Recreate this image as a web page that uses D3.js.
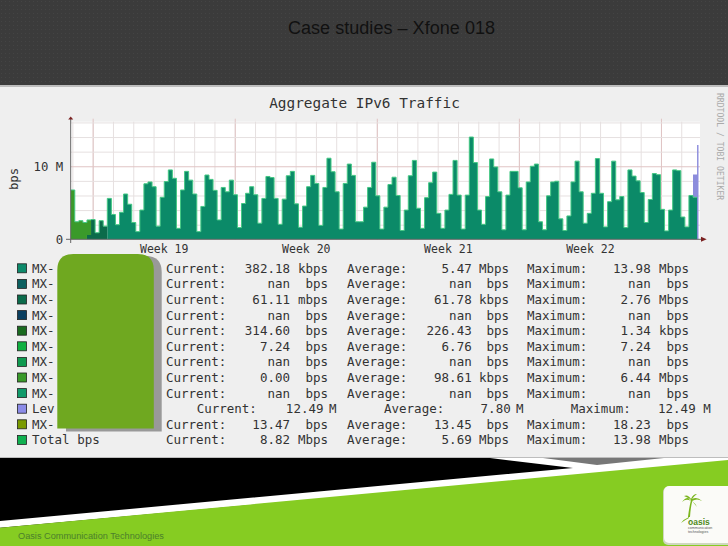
<!DOCTYPE html>
<html>
<head>
<meta charset="utf-8">
<script src="https://cdn.jsdelivr.net/npm/d3@7/dist/d3.min.js"></script>
<style>
  html, body { margin: 0; padding: 0; background: #000; }
  svg { display: block; }
  .mono { font-family: "DejaVu Sans Mono", monospace; fill: #333; }
  .domain { display: none; }
</style>
</head>
<body>
<svg width="728" height="546"></svg>
<script>
// values in M, one per 5th of a day
const greenVals = [6.75, 2.4, 2.55, 2.3, 2.05];
const darkVals = [0, 0, 0, 0, 0.6, 2.7, 0.9, 2.55, 1.8];
const tealVals = [
  0, 0, 0, 0, 0, 0, 0, 0, 0,
  5.6, 3.4, 2.0, 3.7, 6.2, 4.8, 2.3, 1.05, 4.0, 7.6, 7.85, 7.2, 1.8,
  5.75, 7.9, 9.5, 8.35, 1.5, 6.75, 9.3, 8.1, 6.2, 1.05, 4.5, 8.8, 8.2, 6.7, 2.65,
  7.1, 6.5, 8.1, 6.1, 1.6, 4.9, 6.3, 7.2, 6.1, 2.2, 5.6, 8.6, 8.45, 5.6, 2.05,
  5.5, 8.7, 9.3, 4.85, 1.65, 4.55, 7.2, 8.75, 7.65, 1.9, 7.1, 11.1, 9.25, 6.5, 1.4,
  7.65, 10.3, 8.75, 2.4, 2.4, 4.4, 7.1, 10.55, 5.95, 1.4, 4.4, 7.5, 8.5, 6.0, 1.2,
  4.0, 8.7, 10.8, 4.25, 1.5, 5.7, 7.75, 9.2, 3.55, 1.5, 4.0, 6.15, 10.8, 6.05, 1.4, 6.05,
  14.0, 10.5, 4.0, 2.05, 5.85, 11.0, 9.9, 6.5, 1.3, 6.05, 9.3, 9.3, 7.05, 1.3,
  7.85, 10.0, 10.3, 2.4, 1.3, 5.95, 7.85, 7.95, 2.8, 1.2, 3.2, 7.85, 10.7, 6.5, 2.2,
  3.55, 6.3, 11.05, 6.3, 1.7, 5.15, 10.7, 5.4, 5.85, 1.6, 9.5, 8.65, 8.0, 6.4, 2.3,
  5.45, 9.0, 8.85, 4.1, 1.15, 4.0, 9.5, 9.4, 3.05, 1.7, 6.0, 5.75, 0
];
const levelIdx = [153, 154];
const levelVals = [8.86, 12.9];

const weekLabels = ["Week 19", "Week 20", "Week 21", "Week 22"];
const yTicks = [0, 2, 4, 6, 8, 10, 12, 14, 16];

const names = ["MX-", "MX-", "MX-", "MX-", "MX-", "MX-", "MX-", "MX-", "MX-", "Lev", "MX-", "Total bps"];
const swatches = ["#0d8a6b", "#0b5f5f", "#0b6b4b", "#0b3f5f", "#1a6b20", "#10b040", "#0f9a50", "#3a9a2a", "#109a6a", "#8c8ce8", "#7a9a00", "#10b050"];
const curVals = ["382.18", "nan", "61.11", "nan", "314.60", "7.24", "nan", "0.00", "nan", "12.49", "13.47", "8.82"];
const curUnits = ["kbps", "bps", "mbps", "bps", "bps", "bps", "bps", "bps", "bps", "M", "bps", "Mbps"];
const avgVals = ["5.47", "nan", "61.78", "nan", "226.43", "6.76", "nan", "98.61", "nan", "7.80", "13.45", "5.69"];
const avgUnits = ["Mbps", "bps", "kbps", "bps", "bps", "bps", "bps", "kbps", "bps", "M", "bps", "Mbps"];
const maxVals = ["13.98", "nan", "2.76", "nan", "1.34", "7.24", "nan", "6.44", "nan", "12.49", "18.23", "13.98"];
const maxUnits = ["Mbps", "bps", "Mbps", "bps", "kbps", "bps", "bps", "Mbps", "bps", "M", "bps", "Mbps"];

const svg = d3.select("svg");
const defs = svg.append("defs");

// slide background
const dots = defs.append("pattern")
  .attr("id", "dots")
  .attr("width", 4)
  .attr("height", 4)
  .attr("patternUnits", "userSpaceOnUse");
dots.append("rect").attr("width", 4).attr("height", 4).attr("fill", "#3b3b3b");
dots.append("rect").attr("x", 1).attr("y", 1).attr("width", 1).attr("height", 1).attr("fill", "#444");

svg.append("rect").attr("width", 728).attr("height", 86).attr("fill", "url(#dots)");
svg.append("rect").attr("y", 456).attr("width", 728).attr("height", 90).attr("fill", "#000");

const poly = (pts, fill) => svg.append("polygon").attr("points", pts).attr("fill", fill);
poly("490,458 728,458 728,462 0,527.7 0,521 573,468", "#fff");
poly("543,458 664,458 597,465", "#777");
poly("0,527.7 728,460 728,546 0,546", "#86cc22");

svg.append("text")
  .attr("x", 288)
  .attr("y", 34)
  .attr("font-family", "Liberation Sans")
  .attr("font-size", 18)
  .attr("textLength", 207)
  .attr("fill", "#111")
  .text("Case studies \u2013 Xfone 018");

svg.append("text")
  .attr("x", 18)
  .attr("y", 539)
  .attr("font-family", "Liberation Sans")
  .attr("font-size", 9.2)
  .attr("fill", "#4c7f2c")
  .text("Oasis Communication Technologies");

// logo
const logo = svg.append("g");
logo.append("rect").attr("x", 663).attr("y", 487).attr("width", 80).attr("height", 58).attr("rx", 5).attr("fill", "#cfd8c0");
logo.append("rect").attr("x", 664).attr("y", 486).attr("width", 80).attr("height", 57).attr("rx", 5).attr("fill", "#fbfbf8");
logo.append("path")
  .attr("d", "M688 517 Q689 508 691 500 L692.5 500 Q690.5 508 690 517 Z M691 500 Q687 495 682 502 Q686 498 691 501 Q688 497 684 496 Q688 494 691 499 Q693 494 697 494 Q694 496 692 499 Q697 496 702 501 Q697 498 692 501 Q695 503 697 507 Q694 503 691 500 Z M681 523 Q684 519 689 517 L689 518 Q685 520 681 523 Z")
  .attr("fill", "#7ab51d");
logo.append("text").attr("x", 688).attr("y", 525).attr("font-family", "Liberation Sans").attr("font-size", 8.5).attr("font-weight", "bold").attr("fill", "#4f8a1a").text("oasis");
logo.append("text").attr("x", 688).attr("y", 529).attr("font-family", "Liberation Sans").attr("font-size", 3.6).attr("fill", "#555").text("communication");
logo.append("text").attr("x", 688).attr("y", 532.5).attr("font-family", "Liberation Sans").attr("font-size", 3.6).attr("fill", "#555").text("technologies");

// graph panel
svg.append("rect").attr("y", 85).attr("width", 728).attr("height", 373).attr("fill", "#bdbdbd");
svg.append("rect").attr("y", 87).attr("width", 728).attr("height", 370).attr("fill", "#efefef");

const left = 70.7, right = 700, plotTop = 121.7, base = 239.3;
svg.append("rect").attr("x", left).attr("y", plotTop).attr("width", right - left).attr("height", base - plotTop).attr("fill", "#fff");

// x runs in bars, a day is 4.99 bars and week 19 starts at bar 5.4
const dayBars = 4.99, weekStart = 5.4;
const x = d3.scaleLinear().domain([0, 154.72]).range([left, right]);
const y = d3.scaleLinear().domain([0, 16.1]).range([base, plotTop]);

const dayTicks = d3.range(-1, 31).map(d => weekStart + d * dayBars).filter(b => b > 0 && x(b) < right);
const weekTicks = d3.range(0, 5).map(w => weekStart + w * 7 * dayBars);
const weekMids = weekLabels.map((w, i) => weekStart + (i + 0.5) * 7 * dayBars);

const gridGroup = svg.append("g");
gridGroup.append("g")
  .attr("transform", `translate(0,${base})`)
  .call(d3.axisBottom(x).tickValues(dayTicks).tickSizeInner(-(base - plotTop)).tickSizeOuter(0).tickFormat(""))
  .selectAll("line").attr("stroke", "#e6e0e0");
gridGroup.append("g")
  .attr("transform", `translate(0,${base})`)
  .call(d3.axisBottom(x).tickValues(weekTicks).tickSizeInner(-(base - plotTop) - 3).tickSizeOuter(0).tickFormat(""))
  .selectAll("line").attr("stroke", "#e0c4c4");
gridGroup.append("g")
  .attr("transform", `translate(${left},0)`)
  .call(d3.axisRight(y).tickValues(yTicks.filter(t => t > 0 && t !== 10)).tickSizeInner(right - left).tickSizeOuter(0).tickFormat(""))
  .selectAll("line").attr("stroke", "#e6e0e0");
gridGroup.append("g")
  .attr("transform", `translate(${left},0)`)
  .call(d3.axisRight(y).tickValues([10]).tickSizeInner(right - left).tickSizeOuter(0).tickFormat(""))
  .selectAll("line").attr("stroke", "#e0c4c4");

// stacked traffic
const table = tealVals.map((t, i) => ({
  bar: i,
  teal: t,
  dark: darkVals[i] || 0,
  green: greenVals[i] || 0,
  level: levelIdx.includes(i) ? levelVals[levelIdx.indexOf(i)] : 0
}));
const lastTeal = 154;
const stacked = d3.stack().keys(["teal", "dark", "green"])(table);

const area = d3.area()
  .x(d => x(d.data.bar))
  .y0(d => y(d[0]))
  .y1(d => y(d[1]))
  .curve(d3.curveStepAfter);

// level sits behind the stack, its last bar is only a stub
const levelEnd = table.concat([{ bar: 154.35, level: levelVals[1] }]);
svg.append("path")
  .datum(levelEnd)
  .attr("fill", "#8c8cdc")
  .attr("d", d3.area().x(d => x(d.bar)).y0(y(0)).y1(d => y(d.level)).curve(d3.curveStepAfter));

const stackColors = { teal: "#0b8a68", dark: "#0b6b4b", green: "#3a9a2a" };
svg.selectAll("path.layer")
  .data(stacked)
  .join("path")
  .attr("class", "layer")
  .attr("fill", d => stackColors[d.key])
  .attr("d", area);

// lighter total line along the top
const totals = table.filter(d => d.bar < lastTeal).map(d => ({ bar: d.bar, total: d.teal + d.dark + d.green }));
totals.push({ bar: lastTeal, total: totals[totals.length - 1].total });
svg.append("path")
  .datum(totals)
  .attr("fill", "none")
  .attr("stroke", "#45c884")
  .attr("stroke-width", 1)
  .attr("d", d3.line().x(d => x(d.bar)).y(d => y(d.total)).curve(d3.curveStepAfter));

// axes
svg.append("line").attr("x1", left).attr("x2", left).attr("y1", 243).attr("y2", 119).attr("stroke", "#666");
svg.append("line").attr("x1", 66).attr("x2", 702).attr("y1", base).attr("y2", base).attr("stroke", "#666");
poly(`${left - 2.5},119.5 ${left + 2.5},119.5 ${left},116.5`, "#7a2020");
poly("701,236.8 701,241.8 706.7,239.3", "#7a2020");

svg.append("g")
  .attr("transform", `translate(0,${base + 6})`)
  .call(d3.axisBottom(x).tickValues(weekMids).tickSize(0).tickPadding(0).tickFormat((d, i) => weekLabels[i]))
  .selectAll("text")
  .attr("class", "mono")
  .attr("font-size", 11.5)
  .attr("font-family", "DejaVu Sans Mono")
  .attr("fill", "#333");

svg.append("g")
  .attr("transform", `translate(${left - 3.5},0)`)
  .call(d3.axisLeft(y).tickValues([0, 10]).tickSize(0).tickPadding(4).tickFormat(d => d === 0 ? "0" : d + " M"))
  .selectAll("text")
  .attr("class", "mono")
  .attr("font-size", 12.3)
  .attr("font-family", "DejaVu Sans Mono")
  .attr("fill", "#333");

svg.append("text")
  .attr("class", "mono")
  .attr("transform", "translate(18,179) rotate(-90)")
  .attr("text-anchor", "middle")
  .attr("font-size", 12.3)
  .text("bps");

svg.append("text")
  .attr("class", "mono")
  .attr("x", 364.5)
  .attr("y", 108)
  .attr("text-anchor", "middle")
  .attr("font-size", 14.4)
  .text("Aggregate IPv6 Traffic");

svg.append("text")
  .attr("transform", "translate(716.5,93) rotate(90)")
  .attr("font-family", "DejaVu Sans Mono")
  .attr("font-size", 8.1)
  .attr("fill", "#aaa")
  .text("RRDTOOL / TOBI OETIKER");

// legend rows
const rowY = i => 272.8 + i * 15.6;
const rows = svg.selectAll("g.row")
  .data(names)
  .join("g")
  .attr("class", "row")
  .attr("transform", (d, i) => `translate(0,${rowY(i)})`);

rows.append("rect")
  .attr("x", 17.5)
  .attr("y", -9)
  .attr("width", 9)
  .attr("height", 9)
  .attr("fill", (d, i) => swatches[i])
  .attr("stroke", "#222")
  .attr("stroke-width", 0.8);

const cell = (sel, xPos, text, anchor) => sel.append("text")
  .attr("class", "mono")
  .attr("x", xPos)
  .attr("font-size", 12.5)
  .attr("text-anchor", anchor)
  .text(text);

cell(rows, 32, d => d, "start");

const levelRow = 9;
const pick = (i, a, b) => i === levelRow ? b : a;
cell(rows, (d, i) => pick(i, 166, 196.7), "Current:", "start");
cell(rows, (d, i) => pick(i, 290, 323.5), (d, i) => curVals[i], "end");
cell(rows, (d, i) => pick(i, 328, 336.5), (d, i) => curUnits[i], "end");
cell(rows, (d, i) => pick(i, 347, 384), "Average:", "start");
cell(rows, (d, i) => pick(i, 471.7, 510.7), (d, i) => avgVals[i], "end");
cell(rows, (d, i) => pick(i, 509, 523.5), (d, i) => avgUnits[i], "end");
cell(rows, (d, i) => pick(i, 527, 570.7), "Maximum:", "start");
cell(rows, (d, i) => pick(i, 650.7, 695.7), (d, i) => maxVals[i], "end");
cell(rows, (d, i) => pick(i, 689, 710.7), (d, i) => maxUnits[i], "end");

// green tab with shadow over the legend names
const tab = (x0, y0, w, h, r) =>
  `M${x0} ${y0 + h}V${y0 + r}Q${x0} ${y0} ${x0 + r} ${y0}H${x0 + w - r}Q${x0 + w} ${y0} ${x0 + w} ${y0 + r}V${y0 + h}Z`;
svg.append("path").attr("d", tab(66, 256, 95.7, 175.5, 16)).attr("fill", "#999");
svg.append("path").attr("d", tab(57.3, 254, 96.5, 174.5, 16)).attr("fill", "#6fa820");
</script>
</body>
</html>
